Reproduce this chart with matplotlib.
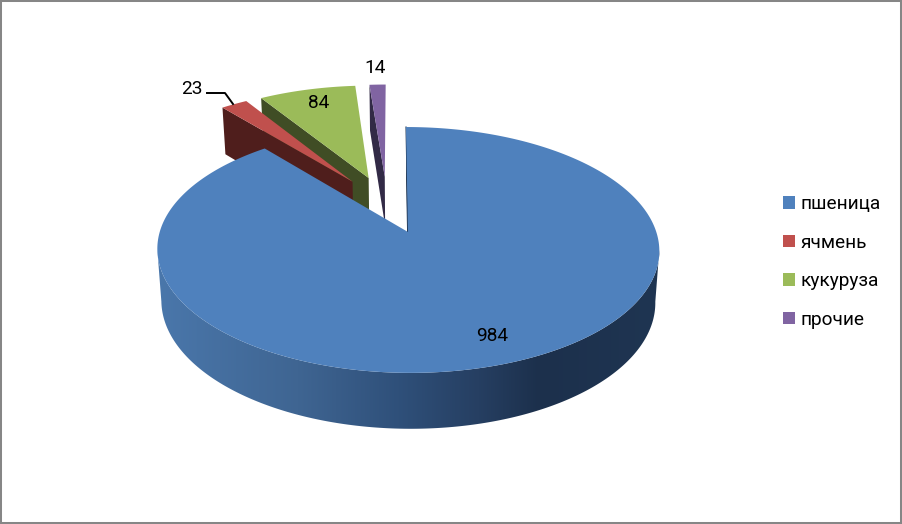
import matplotlib
matplotlib.use('Agg')
import matplotlib.pyplot as plt
import numpy as np
from matplotlib.colors import LinearSegmentedColormap
from matplotlib.patches import Patch, Polygon

plt.rcParams['font.family'] = ['Roboto', 'DejaVu Sans']

labels = ['пшеница', 'ячмень', 'кукуруза', 'прочие']
values = [984, 23, 84, 14]
top_colors = ['#4f81bd', '#c0504d', '#9bbb59', '#8064a2']
wall_colors = ['#1f3552', '#4f1e1c', '#404d25', '#322a46']
label_pos = [(492, 336), (192, 89), (319, 103), (375, 68)]

# pie geometry, in picture pixels
x0, y0 = 408, 232      # blue apex
y0_low = 283
rx, ry, ry_low = 248.3, 120.3, 124.5
persp = 0.146
skew = 0.019
shrink = 0.984
explode = 0.254


def project(u, v, low=False):
    u, v = np.asarray(u, float), np.asarray(v, float)
    w = 1 + persp * v
    sx = rx * u / w
    if low:
        sx = sx * shrink
        return x0 + sx - skew * ry * v / w, y0_low - ry_low * v / w
    return x0 + sx - skew * ry * v / w, y0 - ry * v / w


def to_xy(px, py):
    return np.column_stack([px, py])


fracs = np.array(values) / sum(values) * 2 * np.pi
starts = np.concatenate([[0], np.cumsum(fracs)[:-1]])
ends = starts + fracs
mids = starts + fracs / 2

# blue slice sits on the origin, the others move relative to it
cu, cv = -explode * np.sin(mids[0]), -explode * np.cos(mids[0])

fig = plt.figure(figsize=(9.02, 5.24), dpi=100)
ax = fig.add_axes([0, 0, 1, 1])


def apex(i):
    return cu + explode * np.sin(mids[i]), cv + explode * np.cos(mids[i])


def arc(i, a, b, low=False, n=200):
    t = np.linspace(a, b, n)
    au, av = apex(i)
    return to_xy(*project(au + np.sin(t), av + np.cos(t), low))


def top_face(i):
    au, av = apex(i)
    pts = np.vstack([to_xy(*project([au], [av])), arc(i, starts[i], ends[i])])
    ax.add_patch(Polygon(pts, closed=True, fc=top_colors[i], ec='none'))


def start_wall(i):
    au, av = apex(i)
    a = np.array(to_xy(*project([au], [av])))
    b = to_xy(*project([au + np.sin(starts[i])], [av + np.cos(starts[i])]))
    c = to_xy(*project([au + np.sin(starts[i])], [av + np.cos(starts[i])], True))
    d = to_xy(*project([au], [av], True))
    ax.add_patch(Polygon(np.vstack([a, b, c, d]), closed=True, fc=wall_colors[i], ec='none'))


# small slices, far one first
for i in [3, 2, 1]:
    start_wall(i)
    top_face(i)

# edge of the blue notch
start_wall(0)
ax.plot(*zip(*np.vstack([to_xy(*project([0], [0])), to_xy(*project([0], [1]))])),
        color='#1f3552', lw=0.8)

# blue outer wall between the two side extremes, shaded from left to right
t0 = np.arccos(-persp)
wall = np.vstack([arc(0, t0, 2 * np.pi - t0), arc(0, t0, 2 * np.pi - t0, True)[::-1]])
shade = LinearSegmentedColormap.from_list('shade', [
    (0.0, '#4a77ab'), (0.28, '#3f6592'), (0.48, '#2f507a'),
    (0.64, '#263f62'), (0.76, '#1c304c'), (1.0, '#1f3552')])
img = ax.imshow(np.linspace(0, 1, 256)[None, :], cmap=shade, aspect='auto',
                extent=(157, 660, 440, 230), zorder=1)
wall_patch = Polygon(wall, closed=True, transform=ax.transData, fc='none', ec='none')
ax.add_patch(wall_patch)
img.set_clip_path(wall_patch)

top = np.vstack([to_xy(*project([0], [0])), arc(0, starts[0], ends[0], n=500)])
ax.add_patch(Polygon(top, closed=True, fc=top_colors[0], ec='none', zorder=2))

for v, (lx, ly) in zip(values, label_pos):
    ax.text(lx, ly, str(v), ha='center', va='center', fontsize=13.8, color='black', zorder=5)

# leader for the red slice
ax.plot([207, 225, 233], [93, 93, 104], color='black', lw=1.4, zorder=5)

handles = [Patch(fc=c, ec='none') for c in top_colors]
ax.legend(handles, labels, loc='center left', bbox_to_anchor=(783, 262), bbox_transform=ax.transData,
          frameon=False, fontsize=13.7, handlelength=0.63, handleheight=0.63, handletextpad=0.28,
          labelspacing=1.08, borderpad=0, borderaxespad=0)

ax.set_xlim(0, 902)
ax.set_ylim(524, 0)
ax.set_xticks([])
ax.set_yticks([])
for s in ax.spines.values():
    s.set_color('#868686')
    s.set_linewidth(2.9)

fig.savefig('out.png', dpi=100)
